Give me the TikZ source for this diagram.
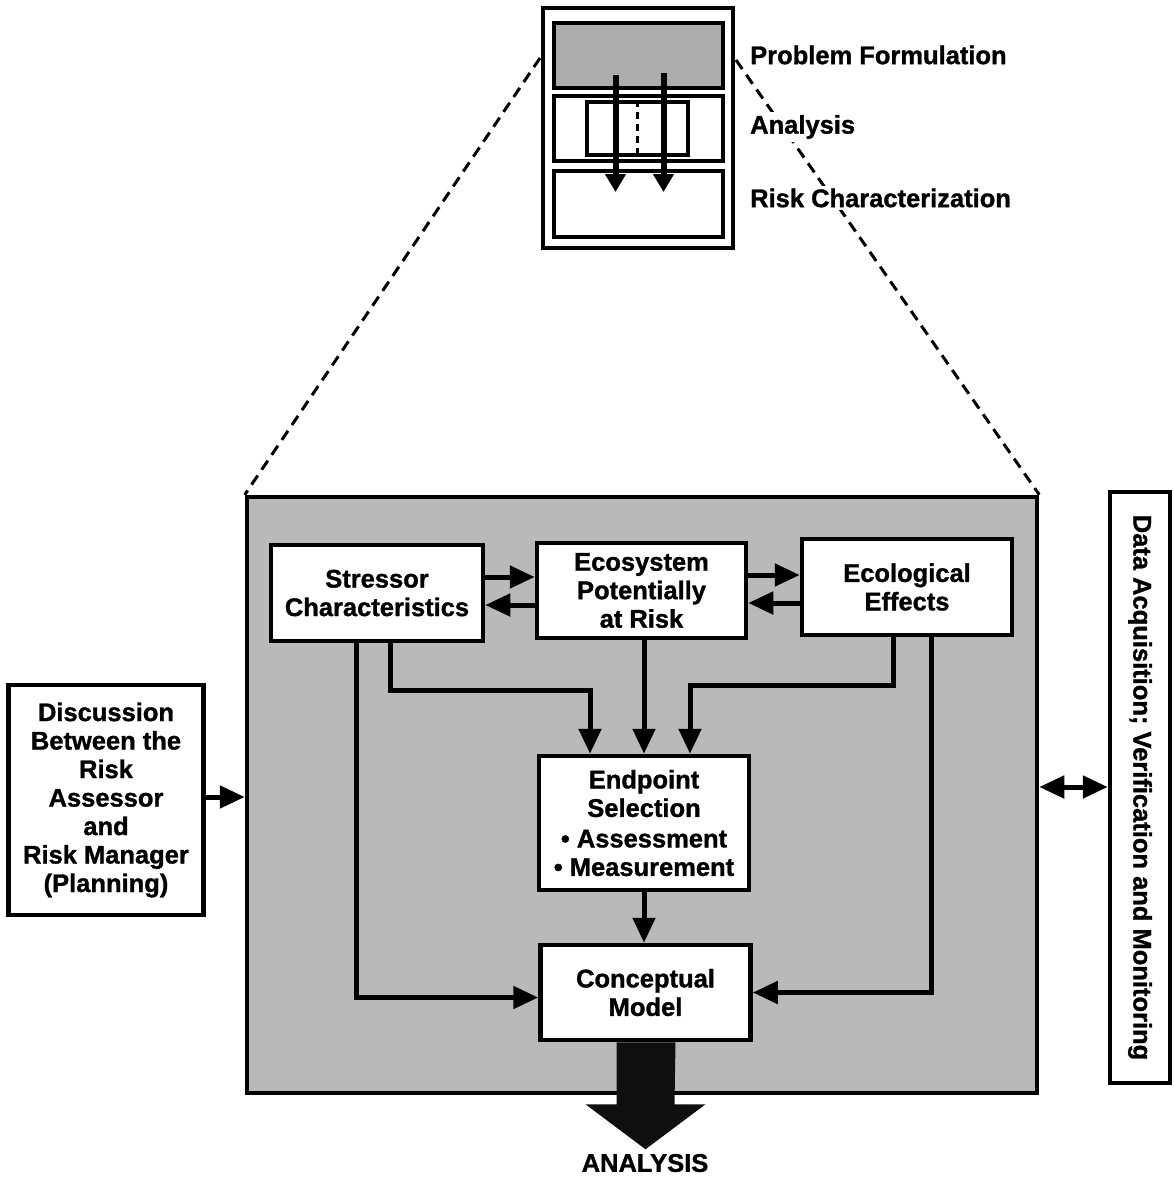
\documentclass[tikz,border=0pt]{standalone}
\usepackage{fontspec}
\setmainfont{Liberation Sans}[BoldFeatures={FakeBold=1.2}]
\usetikzlibrary{arrows.meta}
\begin{document}
\begin{tikzpicture}[x=1pt,y=-1pt,
  font=\bfseries\fontsize{25.5}{28.5}\selectfont,
  box/.style={draw, line width=4.5pt, fill=white, align=center, inner sep=0pt},
  minibox/.style={draw, line width=4.5pt, inner sep=0pt},
  link/.style={line width=5pt, -{Triangle[length=25pt,width=22pt]}},
  twoway/.style={line width=5pt, {Triangle[length=25pt,width=22pt]}-{Triangle[length=25pt,width=22pt]}},
  minilink/.style={line width=6pt, -{Triangle[length=18pt,width=20pt]}},
  zoomline/.style={line width=3pt, dash pattern=on 11pt off 7pt},
  phase/.style={anchor=west, inner sep=3pt, fill=white}]
\useasboundingbox (0,0) rectangle (1174,1181);

% ---- overview of the three phases ----
\node[minibox, minimum width=190pt, minimum height=240pt] (frame) at (638,128) {};
\coordinate (fl) at (540,58);
\coordinate (fr) at (736,60);

% ---- problem formulation in detail ----
\node[draw, line width=4.5pt, fill=gray!55, minimum width=790pt, minimum height=596pt, inner sep=0pt] (bigbox) at (642,795) {};
\draw[zoomline] (fl) -- (bigbox.north west);
\draw[zoomline] (fr) -- (bigbox.north east);

\node[minibox, fill=gray!65, minimum width=169pt, minimum height=65pt] (pf) at (638.5,55.5) {};
\node[minibox, minimum width=169pt, minimum height=65pt] (an) at (638.5,128.5) {};
\node[minibox, minimum width=101pt, minimum height=53pt] (aninner) at (637.5,128.5) {};
\draw[line width=3.5pt, dash pattern=on 7pt off 5pt] (aninner.north) -- (aninner.south);
\node[minibox, minimum width=169pt, minimum height=66pt] (rc) at (638.5,204) {};
\draw[minilink] ([xshift=-23pt]pf.south |- 0,75) -- ([xshift=-23pt]rc.center |- 0,192);
\draw[minilink] ([xshift=25pt]pf.south |- 0,73) -- ([xshift=25pt]rc.center |- 0,192);

\node[phase] (pflabel) at (747,55) {Problem Formulation};
\node[phase] (anlabel) at (747,127) {Analysis};
\node[phase] (rclabel) at (747,198) {Risk Characterization};

\node[box, minimum width=212pt, minimum height=96pt] (stressor) at (377,593) {Stressor\\Characteristics};
\node[box, minimum width=209pt, minimum height=95pt] (ecosystem) at (641.5,590.5) {Ecosystem\\Potentially\\at Risk};
\node[box, minimum width=210pt, minimum height=96pt] (ecological) at (907,587) {Ecological\\Effects};
\node[box, minimum width=210pt, minimum height=134pt] (endpoint) at (644,823) {Endpoint\\Selection\\[2pt]• Assessment\\• Measurement};
\node[box, minimum width=210pt, minimum height=95pt] (conceptual) at (645.5,992.5) {Conceptual\\Model};

% exchanges between the upper boxes
\draw[link] ([yshift=16pt]stressor.east) -- ([yshift=16pt]stressor.east -| ecosystem.west);
\draw[link] ([yshift=-12pt]stressor.east -| ecosystem.west) -- ([yshift=-12pt]stressor.east);
\draw[link] ([yshift=15.5pt]ecosystem.east) -- ([yshift=15.5pt]ecosystem.east -| ecological.west);
\draw[link] ([yshift=-12.5pt]ecosystem.east -| ecological.west) -- ([yshift=-12.5pt]ecosystem.east);

% flows down to endpoint selection and the conceptual model
\draw[link] ([xshift=13pt]stressor.south) -- ++(0,47) -| ([xshift=-54pt]endpoint.north);
\draw[link] (ecosystem.south -| endpoint.north) -- (endpoint.north);
\draw[link] ([xshift=-14pt]ecological.south) -- ++(0,48) -| ([xshift=46pt]endpoint.north);
\draw[link] (endpoint.south) -- (endpoint.south |- conceptual.north);
\draw[link] ([xshift=-21pt]stressor.south) |- ([yshift=-5pt]conceptual.west);
\draw[link] ([xshift=24pt]ecological.south) |- (conceptual.east);

% planning input and data exchange
\node[box, minimum width=195pt, minimum height=230pt] (discussion) at (106,800)
  {Discussion\\Between the\\Risk\\Assessor\\and\\Risk Manager\\(Planning)};
\draw[link] (discussion.east |- 0,797) -- (bigbox.west |- 0,797);

\node[box, minimum width=60pt, minimum height=591pt] (data) at (1140,787.5) {};
\node[rotate=-90, inner sep=0pt] (datalabel) at (data.center) {Data Acquisition; Verification and Monitoring};
\draw[twoway] (bigbox.east |- 0,787) -- (data.west |- 0,787);

% output to the analysis phase
\fill[gray!12!black] ([xshift=-29pt]conceptual.south) -- ++(0,62) -- ++(-31,0)
  -- ++(60,45) -- ++(60,-45) -- ++(-31,0) -- ([xshift=30pt]conceptual.south) -- cycle;
\node (analysis) at (645,1163) {ANALYSIS};
\end{tikzpicture}
\end{document}
